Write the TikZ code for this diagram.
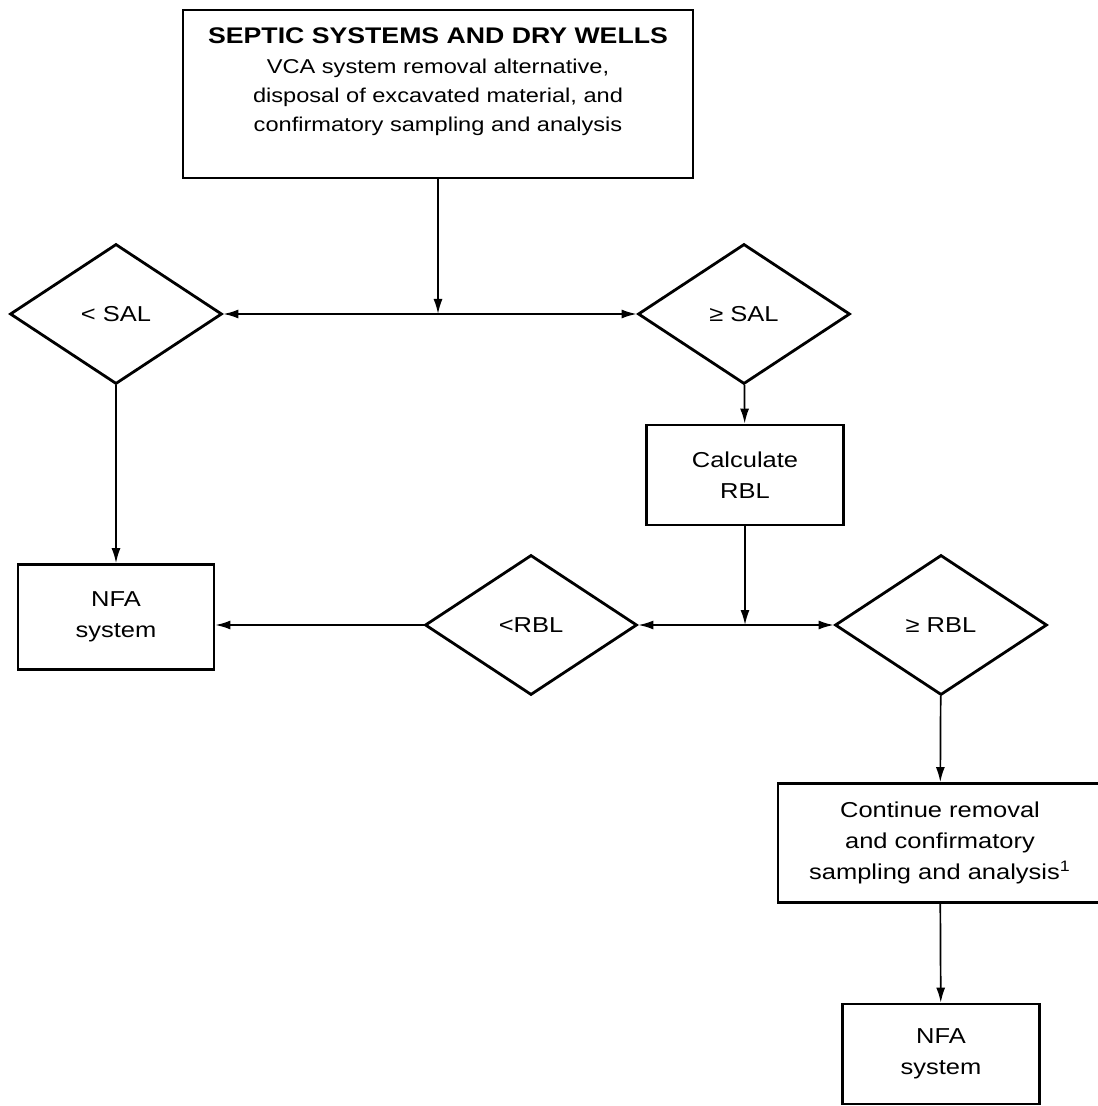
\documentclass[tikz,border=0pt]{standalone}
\usepackage{fontspec}
\setmainfont{Liberation Sans}[FakeStretch=1.18]
\usetikzlibrary{shapes.geometric,arrows.meta}

\begin{document}
\begin{tikzpicture}[x=0.5pt,y=-0.5pt,
  box/.style={draw,line width=1.4pt,align=center,inner sep=0pt,
    font=\fontsize{10.8}{15.5}\selectfont},
  decision/.style={draw,diamond,line width=1.4pt,minimum width=106pt,
    minimum height=70pt,inner sep=0pt,font=\fontsize{10.8}{12}\selectfont},
  flow/.style={-{Latex[length=7.5pt,width=4.5pt]},line width=0.85pt}]
  \useasboundingbox (0,0) rectangle (1097,1106);
  % top box
  \node[box,minimum width=255pt,minimum height=84pt,text depth=14pt,
    font=\fontsize{10}{14.7}\selectfont] (top) at (438,94)
    {{\fontsize{11.3}{14.7}\selectfont\bfseries SEPTIC SYSTEMS AND DRY WELLS}\\
     VCA system removal alternative,\\
     disposal of excavated material, and\\
     confirmatory sampling and analysis};
  % SAL decisions
  \node[decision] (sallo) at (116,314) {< SAL};
  \node[decision] (salhi) at (744,314) {≥ SAL};
  \coordinate (j1) at (438,314);
  \draw[flow] (top) -- (j1);
  \draw[flow] (j1) -- (sallo);
  \draw[flow] (j1) -- (salhi);
  % RBL
  \node[box,minimum width=98.5pt,minimum height=50pt] (calc) at (745,475)
    {Calculate\\RBL};
  \draw[flow] (salhi) -- (calc);
  \node[box,minimum width=98pt,minimum height=52.5pt] (nfa) at (116,617)
    {NFA\\system};
  \draw[flow] (sallo) -- (nfa);
  \node[decision] (rbllo) at (531,625) {<RBL};
  \node[decision] (rblhi) at (941,625) {≥ RBL};
  \coordinate (j2) at (745,625);
  \draw[flow] (calc) -- (j2);
  \draw[flow] (j2) -- (rbllo);
  \draw[flow] (j2) -- (rblhi);
  \draw[flow] (rbllo) -- (nfa.east |- rbllo);
  % removal
  \node[box,minimum width=162pt,minimum height=59.5pt] (cont) at (940,843)
    {Continue removal\\and confirmatory\\sampling and analysis\textsuperscript{1}};
  \draw[flow] (rblhi) -- (cont);
  \node[box,minimum width=98.5pt,minimum height=50pt] (nfb) at (941,1054)
    {NFA\\system};
  \draw[flow] (cont) -- (nfb);
\end{tikzpicture}
\end{document}
